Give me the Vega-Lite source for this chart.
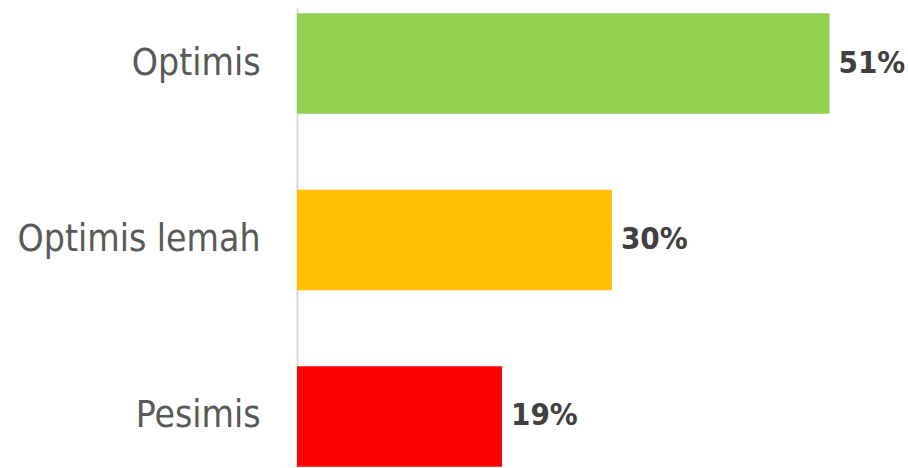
{
  "$schema": "https://vega.github.io/schema/vega-lite/v6.json",
  "autosize": {"type": "none"},
  "width": 611,
  "height": 464,
  "padding": {"left": 297, "top": 8, "right": 0, "bottom": 0},
  "background": "white",
  "config": {"view": {"stroke": null}},
  "data": {"values": [
    {"kategori": "Optimis", "nilai": 50.9, "label": "51%", "warna": "#92d050"},
    {"kategori": "Optimis lemah", "nilai": 30.1, "label": "30%", "warna": "#ffc000"},
    {"kategori": "Pesimis", "nilai": 19.6, "label": "19%", "warna": "#ff0000"}
  ]},
  "encoding": {
    "y": {"field": "kategori", "type": "nominal", "sort": null,
      "scale": {"paddingInner": 0.43, "paddingOuter": 0.03},
      "axis": {"title": null, "ticks": false, "domainColor": "#d9d9d9", "domainWidth": 2,
        "labelFont": "DejaVu Sans Condensed, DejaVu Sans", "labelFontSize": 37, "labelColor": "#595959", "labelPadding": 37, "labelLimit": 400}},
    "x": {"field": "nilai", "type": "quantitative", "scale": {"domain": [0, 58.4], "nice": false},
      "axis": null}
  },
  "layer": [
    {"mark": {"type": "bar"},
     "encoding": {"color": {"field": "warna", "type": "nominal", "scale": null}}},
    {"mark": {"type": "text", "align": "left", "dx": 9, "font": "DejaVu Sans Condensed, DejaVu Sans", "fontSize": 31, "fontWeight": "bold", "color": "#404040"},
     "encoding": {"text": {"field": "label"}}}
  ]
}
